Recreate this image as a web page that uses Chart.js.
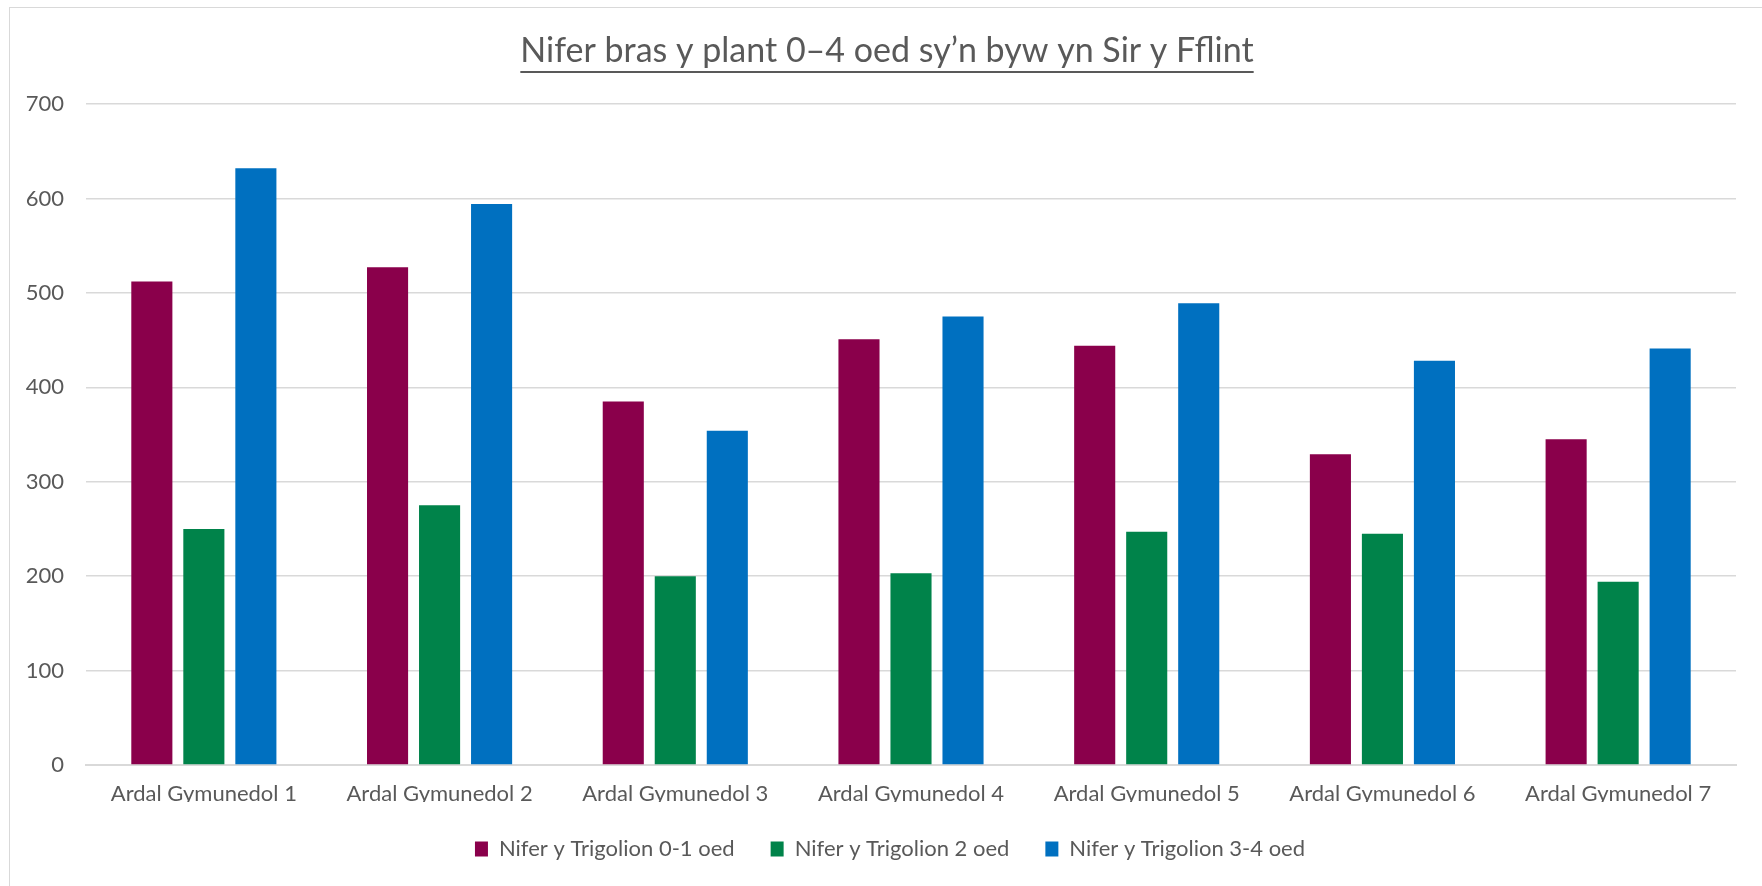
<!DOCTYPE html>
<html>
<head>
<meta charset="utf-8">
<script src="https://cdn.jsdelivr.net/npm/chart.js@4.4.1/dist/chart.umd.min.js"></script>
<style>
  html, body { margin: 0; padding: 0; background: #fff; overflow: hidden; }
  #wrap { position: relative; width: 1762px; height: 886px; }
  #frame { position: absolute; left: 9px; top: 7px; width: 1800px; height: 900px;
           border-left: 1.5px solid #d9d9d9; border-top: 1.5px solid #d9d9d9; }
  canvas { position: absolute; left: 0; top: 0; }
</style>
</head>
<body>
<div id="wrap">
  <div id="frame"></div>
  <canvas id="chart" width="1762" height="886"></canvas>
</div>
<script>
const title = "Nifer bras y plant 0\u20134 oed sy\u2019n byw yn Sir y Fflint";
const categories = ["Ardal Gymunedol 1","Ardal Gymunedol 2","Ardal Gymunedol 3","Ardal Gymunedol 4",
                    "Ardal Gymunedol 5","Ardal Gymunedol 6","Ardal Gymunedol 7"];
const seriesNames = ["Nifer y Trigolion 0-1 oed","Nifer y Trigolion 2 oed","Nifer y Trigolion 3-4 oed"];
const age01 = [512, 527, 385, 451, 444, 329, 345];
const age2  = [250, 275, 200, 203, 247, 245, 194];
const age34 = [632, 594, 354, 475, 489, 428, 441];
const colours = ["#8a004b", "#00834a", "#0070c0"];

const FONT = "Lato, 'Open Sans', sans-serif";
const GREY = "#595959";

// the title is centred on the whole chart box (not the plot), and underlined
const underlinedTitle = {
  id: "underlinedTitle",
  afterLayout(chart) {
    // legend sits centred on the chart box too
    if (chart.legend) { chart.legend.left += 22; chart.legend.right += 22; }
  },
  afterDraw(chart) {
    const ctx = chart.ctx;
    ctx.save();
    ctx.font = "34px " + FONT;
    ctx.fillStyle = GREY;
    ctx.textAlign = "center";
    ctx.textBaseline = "middle";
    const cx = 887;
    ctx.fillText(title, cx, 51);
    const w = ctx.measureText(title).width;
    ctx.strokeStyle = GREY;
    ctx.lineWidth = 2;
    ctx.beginPath();
    ctx.moveTo(cx - w / 2, 72);
    ctx.lineTo(cx + w / 2, 72);
    ctx.stroke();
    ctx.restore();
  }
};

const ctx = document.getElementById("chart").getContext("2d");
new Chart(ctx, {
  type: "bar",
  data: {
    labels: categories,
    datasets: [
      { label: seriesNames[0], data: age01, backgroundColor: colours[0] },
      { label: seriesNames[1], data: age2,  backgroundColor: colours[1] },
      { label: seriesNames[2], data: age34, backgroundColor: colours[2] }
    ]
  },
  options: {
    responsive: false,
    animation: false,
    layout: { padding: { left: 0, right: 26, top: 104, bottom: 16 } },
    datasets: { bar: { categoryPercentage: 0.662, barPercentage: 0.79 } },
    scales: {
      x: {
        grid: { display: false, drawTicks: false },
        border: { color: "#d9d9d9", width: 2 },
        ticks: { color: GREY, font: { family: FONT, size: 22 }, padding: 16, maxRotation: 0 },
        afterFit(s) { s.height = 37; }
      },
      y: {
        min: 0, max: 700,
        grid: { color: "#d9d9d9", lineWidth: 1.5, drawTicks: false },
        border: { display: false },
        ticks: { stepSize: 100, color: GREY, font: { family: FONT, size: 22 }, padding: 22 },
        afterFit(s) { s.width = 86; }
      }
    },
    plugins: {
      title: { display: false },
      legend: {
        position: "bottom",
        labels: {
          color: GREY, font: { family: FONT, size: 22 },
          boxWidth: 13, boxHeight: 15, padding: 36
        }
      },
      tooltip: { enabled: false }
    }
  },
  plugins: [underlinedTitle]
});
</script>
</body>
</html>
